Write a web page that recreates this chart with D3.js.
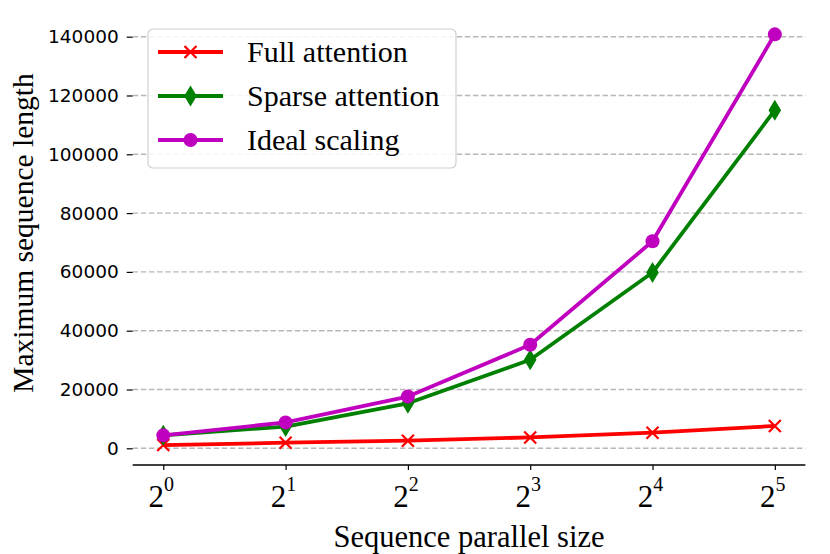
<!DOCTYPE html>
<html>
<head>
<meta charset="utf-8">
<script src="https://cdn.jsdelivr.net/npm/d3@7"></script>
<style>
	body { margin: 0; background: #fff; }
	.grid line { stroke: #b8b8b8; stroke-width: 1.4; stroke-dasharray: 5.5 2.6; }
	.y-axis text { font-family: "DejaVu Sans", sans-serif; font-size: 18.5px; fill: #000; }
	.serif { font-family: "Liberation Serif", "Times New Roman", serif; fill: #000; }
</style>
</head>
<body>
<svg id="chart" width="830" height="554"></svg>
<script>
var exponents = [0, 1, 2, 3, 4, 5];
var fullAttention = [1100, 1900, 2600, 3700, 5300, 7600];
var sparseAttention = [4400, 7400, 15300, 30100, 59800, 115000];
var idealScaling = [4400, 8800, 17600, 35200, 70400, 140800];
var yTicks = [0, 20000, 40000, 60000, 80000, 100000, 120000, 140000];
var seriesNames = ['Full attention', 'Sparse attention', 'Ideal scaling'];
var seriesColors = ['#ff0000', '#008000', '#bf00bf'];

var svg = d3.select('#chart');

var plotLeft = 132.7, plotRight = 805.4, plotTop = 13.8, plotBottom = 465.6;

var xScale = d3.scaleLinear()
	.domain([-0.25, 5.25])
	.range([plotLeft, plotRight]);

var all = fullAttention.concat(sparseAttention, idealScaling);
var yMin = d3.min(all), yMax = d3.max(all);
var pad = (yMax - yMin) * 0.05;
var yScale = d3.scaleLinear()
	.domain([yMin - pad, yMax + pad])
	.range([plotBottom, plotTop]);

// dashed horizontal grid
svg.append('g')
	.attr('class', 'grid')
	.selectAll('line')
	.data(yTicks)
	.enter()
	.append('line')
	.attr('x1', plotLeft)
	.attr('x2', plotRight)
	.attr('y1', d => yScale(d))
	.attr('y2', d => yScale(d));

// y axis: ticks only, no spine
var yAxis = d3.axisLeft(yScale)
	.tickValues(yTicks)
	.tickFormat(d3.format('d'))
	.tickSize(6)
	.tickPadding(8);
var gy = svg.append('g')
	.attr('class', 'y-axis')
	.attr('transform', `translate(${plotLeft}, 0)`)
	.call(yAxis);
gy.select('.domain').remove();
gy.selectAll('line').attr('stroke', '#000').attr('stroke-width', 1.2);

// x axis: bottom spine with ticks, labels drawn as powers of two
var xAxis = d3.axisBottom(xScale)
	.tickValues(exponents)
	.tickSize(5)
	.tickFormat('');
var gx = svg.append('g')
	.attr('class', 'x-axis')
	.attr('transform', `translate(0, ${plotBottom - 0.6})`)
	.call(xAxis);
gx.select('.domain')
	.attr('d', `M${plotLeft},0H${plotRight}`)
	.attr('stroke', '#000')
	.attr('stroke-width', 1.6);
gx.selectAll('.tick line').attr('stroke', '#000').attr('stroke-width', 1.2);

var xLabels = svg.append('g')
	.selectAll('text')
	.data(exponents)
	.enter()
	.append('text')
	.attr('class', 'serif')
	.attr('x', d => xScale(d) - 2)
	.attr('y', 507)
	.attr('text-anchor', 'middle');
xLabels.append('tspan')
	.style('font-size', '31px')
	.text('2');
xLabels.append('tspan')
	.attr('dy', -16)
	.style('font-size', '20px')
	.text(d => d);

svg.append('text')
	.attr('class', 'serif')
	.attr('x', (plotLeft + plotRight) / 2)
	.attr('y', 547)
	.attr('text-anchor', 'middle')
	.style('font-size', '30.5px')
	.text('Sequence parallel size');

svg.append('text')
	.attr('class', 'serif')
	.attr('transform', 'translate(33, 233) rotate(-90)')
	.attr('text-anchor', 'middle')
	.style('font-size', '29.5px')
	.text('Maximum sequence length');

// lines
var line = d3.line()
	.x((d, i) => xScale(exponents[i]))
	.y(d => yScale(d));

var allSeries = [fullAttention, sparseAttention, idealScaling];

var markerFns = [
	function(g, c) {
		g.append('path')
			.attr('d', 'M-6,-6L6,6M-6,6L6,-6')
			.attr('stroke', c)
			.attr('stroke-width', 2.2)
			.attr('fill', 'none');
	},
	function(g, c) {
		g.append('path')
			.attr('d', 'M0,-10.5L6.3,0L0,10.5L-6.3,0Z')
			.attr('fill', c);
	},
	function(g, c) {
		g.append('circle')
			.attr('r', 7)
			.attr('fill', c);
	}
];

allSeries.forEach(function(values, s) {
	svg.append('path')
		.attr('d', line(values))
		.attr('fill', 'none')
		.attr('stroke', seriesColors[s])
		.attr('stroke-width', 3.8)
		.attr('stroke-linejoin', 'round');

	svg.append('g')
		.selectAll('g')
		.data(values)
		.enter()
		.append('g')
		.attr('transform', (d, i) => `translate(${xScale(exponents[i])}, ${yScale(d)})`)
		.each(function() { markerFns[s](d3.select(this), seriesColors[s]); });
});

// legend
var legend = svg.append('g');
legend.append('rect')
	.attr('x', 148)
	.attr('y', 29)
	.attr('width', 308)
	.attr('height', 139)
	.attr('rx', 5)
	.attr('fill', '#fff')
	.attr('fill-opacity', 0.85)
	.attr('stroke', '#d0d0d0')
	.attr('stroke-width', 1.2);

seriesNames.forEach(function(name, s) {
	var cy = 52 + s * 44;
	legend.append('line')
		.attr('x1', 158)
		.attr('x2', 223)
		.attr('y1', cy)
		.attr('y2', cy)
		.attr('stroke', seriesColors[s])
		.attr('stroke-width', 3.8);
	var m = legend.append('g').attr('transform', `translate(190.5, ${cy})`);
	markerFns[s](m, seriesColors[s]);
	legend.append('text')
		.attr('class', 'serif')
		.attr('x', 247)
		.attr('y', cy + 10)
		.style('font-size', '30px')
		.text(name);
});
</script>
</body>
</html>
